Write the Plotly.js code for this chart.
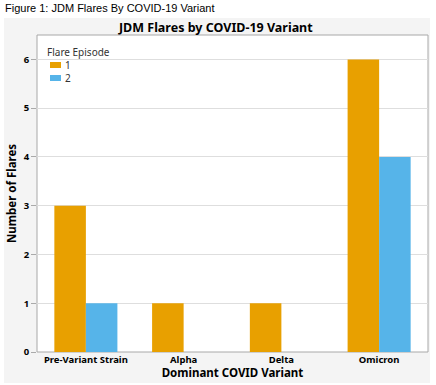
<!DOCTYPE html>
<html>
<head>
<meta charset="utf-8">
<script src="https://cdn.plot.ly/plotly-3.0.1.min.js"></script>
<style>html,body{margin:0;padding:0;background:#fff;}#chart{width:436px;height:385px;}</style>
</head>
<body>
<div id="chart"></div>
<script>
const categories = ["Pre-Variant Strain", "Alpha", "Delta", "Omicron"];
const episode1 = [3, 1, 1, 6];
const episode2 = [1, null, null, 4];
const seriesNames = ["1", "2"];
const seriesColors = ["#E8A000", "#56B4E9"];
const legendTitle = "Flare Episode";
const yTicks = [0, 1, 2, 3, 4, 5, 6];

const FONT = "Noto Sans, Open Sans, sans-serif";
const L = 37, T = 35, W = 391, H = 317;
const px = x => (x - L) / W;
const py = y => (T + H - y) / H;

const traces = [episode1, episode2].map((vals, i) => ({
  type: "bar", name: seriesNames[i], x: categories, y: vals,
  marker: {color: seriesColors[i], line: {width: 0}}, showlegend: false
}));

const shapes = [
  {type: "rect", xref: "paper", yref: "paper", layer: "below",
   x0: px(4), x1: px(430), y0: py(383), y1: py(18),
   fillcolor: "#f4f4f4", line: {width: 0}},
  {type: "rect", xref: "paper", yref: "paper", layer: "below",
   x0: 0, x1: 1, y0: 0, y1: 1,
   fillcolor: "#ffffff", line: {width: 1, color: "#a8a8a8"}}
];
const annotations = [
  {text: "Figure 1: JDM Flares By COVID-19 Variant", xref: "paper", yref: "paper",
   x: px(3), y: py(8), xanchor: "left", yanchor: "middle", showarrow: false,
   font: {family: "Liberation Sans, Arial, sans-serif", size: 11, color: "#000"}},
  {text: legendTitle, xref: "paper", yref: "paper",
   x: px(45), y: py(52), xanchor: "left", yanchor: "middle", showarrow: false,
   font: {family: FONT, size: 10, color: "#333"}}
];
seriesNames.forEach((n, i) => {
  const yc = 65 + i * 13;
  shapes.push({type: "rect", xref: "paper", yref: "paper", layer: "above",
    x0: px(50), x1: px(61), y0: py(yc + 3), y1: py(yc - 3),
    fillcolor: seriesColors[i], line: {width: 0}});
  annotations.push({text: n, xref: "paper", yref: "paper",
    x: px(63), y: py(yc), xanchor: "left", yanchor: "middle", showarrow: false,
    font: {family: FONT, size: 10, color: "#333"}});
});

const layout = {
  width: 436, height: 385,
  margin: {l: L, r: 436 - L - W, t: T, b: 385 - T - H, pad: 0},
  paper_bgcolor: "#ffffff",
  plot_bgcolor: "rgba(0,0,0,0)",
  font: {family: FONT, color: "#000"},
  barmode: "group",
  bargap: 0.355,
  bargroupgap: 0,
  showlegend: false,
  title: {
    text: "<b>JDM Flares by COVID-19 Variant</b>",
    font: {family: FONT, size: 12.5, color: "#000"},
    xref: "container", yref: "container", x: 0.495, y: 1 - 28/385,
    xanchor: "center", yanchor: "middle"
  },
  xaxis: {
    type: "category",
    showgrid: false, zeroline: false, showline: false,
    ticks: "", tickfont: {family: FONT, size: 9.5, color: "#000", weight: "bold"},
    title: {text: "<b>Dominant COVID Variant</b>", font: {family: FONT, size: 11.5, color: "#000"}, standoff: 2}
  },
  yaxis: {
    range: [0, 6.5],
    tickvals: yTicks, ticktext: yTicks.map(String),
    showgrid: true, gridcolor: "#dedede", gridwidth: 1,
    zeroline: false, showline: false,
    ticks: "outside", ticklen: 5, tickcolor: "#aaaaaa", tickwidth: 1,
    tickfont: {family: FONT, size: 9.5, color: "#000", weight: "bold"},
    title: {text: "<b>Number of Flares</b>", font: {family: FONT, size: 11.5, color: "#000"}, standoff: 4}
  },
  shapes: shapes,
  annotations: annotations
};

Plotly.newPlot("chart", traces, layout, {displayModeBar: false, staticPlot: true});
</script>
</body>
</html>
